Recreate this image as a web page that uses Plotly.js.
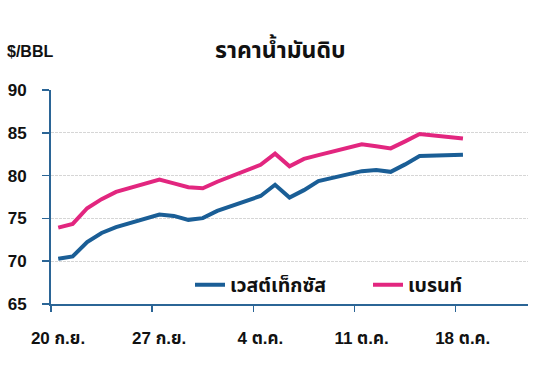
<!DOCTYPE html>
<html>
<head>
<meta charset="utf-8">
<script src="https://cdn.plot.ly/plotly-3.0.1.min.js"></script>
<style>html,body{margin:0;padding:0;background:#fff;}#chart{width:537px;height:371px;}</style>
</head>
<body>
<div id="chart"></div>
<script>
const dates = ['2021-09-20','2021-09-21','2021-09-22','2021-09-23','2021-09-24',
  '2021-09-27','2021-09-28','2021-09-29','2021-09-30','2021-10-01',
  '2021-10-04','2021-10-05','2021-10-06','2021-10-07','2021-10-08',
  '2021-10-11','2021-10-12','2021-10-13','2021-10-14','2021-10-15',
  '2021-10-18'];
const wti = [70.29,70.56,72.23,73.30,73.98,75.45,75.29,74.83,75.03,75.88,
  77.62,78.93,77.43,78.30,79.35,80.52,80.64,80.44,81.31,82.28,82.44];
const brent = [73.92,74.36,76.19,77.25,78.09,79.53,79.09,78.64,78.52,79.28,
  81.26,82.56,81.08,81.95,82.39,83.65,83.42,83.18,84.00,84.86,84.33];
const tickDates = ['2021-09-20','2021-09-27','2021-10-04','2021-10-11','2021-10-18'];
const tickLabels = ['20 ก.ย.','27 ก.ย.','4 ต.ค.','11 ต.ค.','18 ต.ค.'];
const yTicks = [65,70,75,80,85,90];
const seriesNames = ['เวสต์เท็กซัส','เบรนท์'];
const chartTitle = 'ราคาน้ำมันดิบ';
const unitLabel = '$/BBL';

const xs = dates.map(d => d + ' 12:00');
const FONT = 'Liberation Sans, Arial, Noto Sans Thai, Noto Sans, sans-serif';
const axisColor = '#2b6596';

const traces = [
  {x: xs, y: wti, name: '<b>' + seriesNames[0] + '</b>', type: 'scatter', mode: 'lines',
   line: {color: '#1a5e96', width: 4}, legend: 'legend'},
  {x: xs, y: brent, name: '<b>' + seriesNames[1] + '</b>', type: 'scatter', mode: 'lines',
   line: {color: '#e2267f', width: 4}, legend: 'legend2'}
];

const legendBase = {orientation: 'h', xanchor: 'left', y: 0.089, yanchor: 'middle',
  bgcolor: 'rgba(0,0,0,0)', font: {size: 19.5, family: FONT, color: '#111'}};

const layout = {
  width: 537, height: 371,
  margin: {l: 51, r: 9, t: 90, b: 67},
  paper_bgcolor: '#fff', plot_bgcolor: '#fff',
  font: {family: FONT, color: '#111', size: 17},
  title: {text: '<b>' + chartTitle + '</b>', x: 0.522, xanchor: 'center',
          y: 1 - 50/371, yanchor: 'middle', yref: 'container',
          font: {size: 23, family: FONT, color: '#111'}},
  showlegend: true,
  legend: Object.assign({}, legendBase, {x: (190 - 51) / 477}),
  legend2: Object.assign({}, legendBase, {x: (368 - 51) / 477}),
  xaxis: {type: 'date', range: ['2021-09-20', '2021-10-23'],
          tickvals: tickDates, ticktext: tickLabels.map(t => '<b>' + t + '</b>'),
          ticks: 'outside', ticklen: 6, tickwidth: 1.5, tickcolor: axisColor,
          showline: true, linecolor: axisColor, linewidth: 2,
          showgrid: false, zeroline: false, ticklabelshift: 7, ticklabelstandoff: 12,
          tickfont: {size: 17, family: FONT, color: '#111'}, fixedrange: true},
  yaxis: {range: [65, 90], tickvals: yTicks, ticktext: yTicks.map(v => '<b>' + v + '</b>'),
          ticks: 'outside', ticklen: 7, tickwidth: 1.5, tickcolor: axisColor,
          showline: true, linecolor: axisColor, linewidth: 2,
          showgrid: true, gridcolor: '#d6d6d6', griddash: '3px,1px', gridwidth: 1,
          zeroline: false, ticklabelstandoff: 12,
          tickfont: {size: 17, family: FONT, color: '#111'}, fixedrange: true},
  annotations: [{text: '<b>' + unitLabel + '</b>', xref: 'paper', yref: 'paper',
                 x: -46/477, xanchor: 'left', y: (304-51)/214, yanchor: 'middle',
                 showarrow: false, font: {size: 16, family: FONT, color: '#111'}}]
};

Plotly.newPlot('chart', traces, layout, {displayModeBar: false, staticPlot: true});
</script>
</body>
</html>
